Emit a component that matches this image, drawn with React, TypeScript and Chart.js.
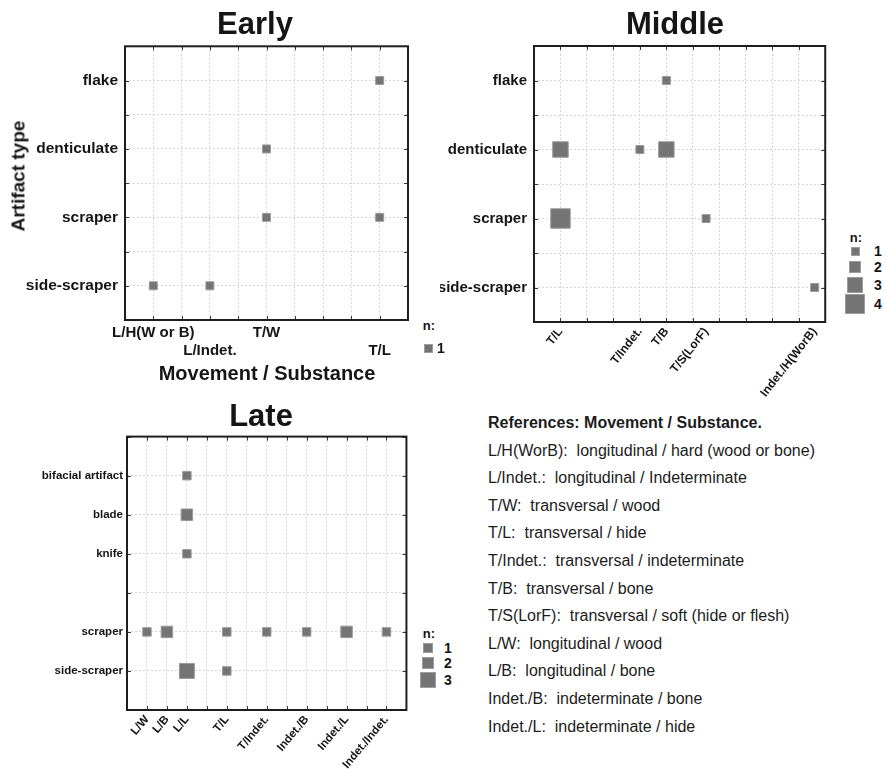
import React, { useEffect, useRef } from 'react';
import { Chart, registerables } from 'chart.js';
Chart.register(...registerables);

const FONT = "'Liberation Sans', Arial, Helvetica, sans-serif";

// ---------- Early ----------
const earlyArtifacts = ['side-scraper', 'scraper', 'denticulate', 'flake'];
const earlyArtifactPos = [1, 2, 3, 4];
const earlyMovements = ['L/H(W or B)', 'L/Indet.', 'T/W', 'T/L'];
const earlyMovementPos = [1, 2, 3, 5];
const earlyMovementRow = [0, 1, 0, 1];
const earlyPointMovement = ['L/H(W or B)', 'L/Indet.', 'T/W', 'T/W', 'T/L', 'T/L'];
const earlyPointArtifact = ['side-scraper', 'side-scraper', 'denticulate', 'scraper', 'scraper', 'flake'];
const earlyPointN = [1, 1, 1, 1, 1, 1];
const earlyLegendN = [1];

// ---------- Middle ----------
const middleArtifacts = ['side-scraper', 'scraper', 'denticulate', 'flake'];
const middleArtifactPos = [1, 2, 3, 4];
const middleMovements = ['T/L', 'T/Indet.', 'T/B', 'T/S(LorF)', 'Indet./H(WorB)'];
const middleMovementPos = [1, 4, 5, 6.5, 10.6];
const middlePointMovement = ['T/B', 'T/L', 'T/Indet.', 'T/B', 'T/L', 'T/S(LorF)', 'Indet./H(WorB)'];
const middlePointArtifact = ['flake', 'denticulate', 'denticulate', 'denticulate', 'scraper', 'scraper', 'side-scraper'];
const middlePointN = [1, 3, 1, 3, 4, 1, 1];
const middleLegendN = [1, 2, 3, 4];

// ---------- Late ----------
const lateArtifacts = ['side-scraper', 'scraper', 'knife', 'blade', 'bifacial artifact'];
const lateArtifactPos = [1, 2, 4, 5, 6];
const lateMovements = ['L/W', 'L/B', 'L/L', 'T/L', 'T/Indet.', 'Indet./B', 'Indet./L', 'Indet./Indet.'];
const lateMovementPos = [2, 2.5, 3, 4, 5, 6, 7, 8];
const latePointMovement = ['L/W', 'L/B', 'T/L', 'T/Indet.', 'Indet./B', 'Indet./L', 'Indet./Indet.', 'L/L', 'T/L', 'L/L', 'L/L', 'L/L'];
const latePointArtifact = ['scraper', 'scraper', 'scraper', 'scraper', 'scraper', 'scraper', 'scraper', 'side-scraper', 'side-scraper', 'knife', 'blade', 'bifacial artifact'];
const latePointN = [1, 2, 1, 1, 1, 2, 1, 3, 1, 1, 2, 1];
const lateLegendN = [1, 2, 3];

// ---------- References ----------
const referenceTitle = 'References: Movement / Substance.';
const referenceCodes = ['L/H(WorB)', 'L/Indet.', 'T/W', 'T/L', 'T/Indet.', 'T/B', 'T/S(LorF)', 'L/W', 'L/B', 'Indet./B', 'Indet./L'];
const referenceMeanings = [
  'longitudinal / hard (wood or bone)',
  'longitudinal / Indeterminate',
  'transversal / wood',
  'transversal / hide',
  'transversal / indeterminate',
  'transversal / bone',
  'transversal / soft (hide or flesh)',
  'longitudinal / wood',
  'longitudinal / bone',
  'indeterminate / bone',
  'indeterminate / hide',
];

// ---------- styles ----------
const MARK_FILL = '#747474';
const MARK_BORDER = '#9c9c9c';
const TEXT = '#151515';

type Box = { left: number; top: number; width: number; height: number };
type Plot = { left: number; top: number; right: number; bottom: number };
type Panel = {
  artifacts: string[]; artifactPos: number[];
  movements: string[]; movementPos: number[]; movementRow?: number[];
  pm: string[]; pa: string[]; pn: number[];
  xMin: number; xMax: number; xStep: number;
  yMin: number; yMax: number; yStep: number;
  sides: number[];
  yFont: number; xFont: number; rotation: number;
  xPad: number; yPad: number;
  canvas: Box; plot: Plot;
};

function steps(a: number, b: number, s: number) {
  const out: number[] = [];
  for (let v = a; v <= b + 1e-9; v += s) out.push(Math.round(v * 1000) / 1000);
  return out;
}
const near = (a: number, b: number) => Math.abs(a - b) < 1e-6;

const framePlugin = {
  id: 'frame',
  afterDraw(chart: any, _args: any, opts: any) {
    const { ctx, chartArea: a, scales } = chart;
    ctx.save();
    ctx.strokeStyle = '#3a3a3a';
    ctx.lineWidth = 1;
    ctx.beginPath();
    for (const v of opts.xGrid) {
      const x = Math.round(scales.x.getPixelForValue(v)) + 0.5;
      ctx.moveTo(x, a.top); ctx.lineTo(x, a.top + 4);
      ctx.moveTo(x, a.bottom); ctx.lineTo(x, a.bottom - 4);
    }
    for (const v of opts.yGrid) {
      const y = Math.round(scales.y.getPixelForValue(v)) + 0.5;
      ctx.moveTo(a.left, y); ctx.lineTo(a.left + 4, y);
      ctx.moveTo(a.right, y); ctx.lineTo(a.right - 4, y);
    }
    ctx.stroke();
    ctx.strokeStyle = '#1e1e1e';
    ctx.lineWidth = 2;
    ctx.strokeRect(a.left, a.top, a.right - a.left, a.bottom - a.top);
    ctx.restore();
  },
};

function makeChart(canvas: HTMLCanvasElement, p: Panel) {
  const data = p.pm.map((m, i) => ({
    x: p.movementPos[p.movements.indexOf(m)],
    y: p.artifactPos[p.artifacts.indexOf(p.pa[i])],
    n: p.pn[i],
  }));
  const radius = (c: any) => {
    const raw = c.raw;
    if (!raw) return 0;
    return (p.sides[raw.n - 1] - 1) / Math.SQRT2;
  };
  const xGrid = steps(p.xMin, p.xMax, p.xStep);
  const yGrid = steps(p.yMin, p.yMax, p.yStep);
  const xTicks = Array.from(new Set([...xGrid, ...p.movementPos])).sort((a, b) => a - b);
  const yTicks = Array.from(new Set([...yGrid, ...p.artifactPos])).sort((a, b) => a - b);
  const cv = p.canvas, pl = p.plot;
  const gridColor = (grid: number[]) => (c: any) =>
    c.tick && grid.some((g) => near(g, c.tick.value)) ? '#d6d6d6' : 'rgba(0,0,0,0)';

  return new Chart(canvas, {
    type: 'scatter',
    data: {
      datasets: [{
        data: data as any,
        pointStyle: 'rect',
        pointRadius: radius,
        pointHoverRadius: radius,
        backgroundColor: MARK_FILL,
        borderColor: MARK_BORDER,
        borderWidth: 1,
      }],
    },
    options: {
      animation: false,
      responsive: false,
      events: [],
      layout: { padding: { left: 0, top: pl.top - cv.top, right: cv.left + cv.width - pl.right, bottom: 0 } },
      plugins: { legend: { display: false }, tooltip: { enabled: false }, frame: { xGrid, yGrid } } as any,
      scales: {
        x: {
          type: 'linear', position: 'bottom', min: p.xMin, max: p.xMax,
          afterBuildTicks: (s: any) => { s.ticks = xTicks.map((v) => ({ value: v })); },
          afterFit: (s: any) => { s.height = cv.top + cv.height - pl.bottom; },
          ticks: {
            autoSkip: false, minRotation: p.rotation, maxRotation: p.rotation, padding: p.xPad,
            color: TEXT, font: { family: FONT, size: p.xFont, weight: 'bold' },
            callback: (v: any) => {
              const i = p.movementPos.findIndex((q) => near(q, Number(v)));
              if (i < 0) return '';
              return p.movementRow && p.movementRow[i] ? ['', p.movements[i]] : p.movements[i];
            },
          },
          grid: { color: gridColor(xGrid), lineWidth: 1, drawTicks: false },
          border: { display: false, dash: [2, 2] },
        },
        y: {
          type: 'linear', position: 'left', min: p.yMin, max: p.yMax,
          afterBuildTicks: (s: any) => { s.ticks = yTicks.map((v) => ({ value: v })); },
          afterFit: (s: any) => { s.width = pl.left - cv.left; },
          ticks: {
            autoSkip: false, padding: p.yPad,
            color: TEXT, font: { family: FONT, size: p.yFont, weight: 'bold' },
            callback: (v: any) => {
              const i = p.artifactPos.findIndex((q) => near(q, Number(v)));
              return i < 0 ? '' : p.artifacts[i];
            },
          },
          grid: { color: gridColor(yGrid), lineWidth: 1, drawTicks: false },
          border: { display: false, dash: [2, 2] },
        },
      },
    } as any,
    plugins: [framePlugin as any],
  });
}

const earlyPanel: Panel = {
  artifacts: earlyArtifacts, artifactPos: earlyArtifactPos,
  movements: earlyMovements, movementPos: earlyMovementPos, movementRow: earlyMovementRow,
  pm: earlyPointMovement, pa: earlyPointArtifact, pn: earlyPointN,
  xMin: 0.5, xMax: 5.5, xStep: 0.5, yMin: 0.5, yMax: 4.5, yStep: 0.5,
  sides: [9],
  yFont: 15.5, xFont: 15, rotation: 0, xPad: 4, yPad: 7,
  canvas: { left: 0, top: 30, width: 420, height: 332 },
  plot: { left: 125, top: 43, right: 408, bottom: 320 },
};
const middlePanel: Panel = {
  artifacts: middleArtifacts, artifactPos: middleArtifactPos,
  movements: middleMovements, movementPos: middleMovementPos,
  pm: middlePointMovement, pa: middlePointArtifact, pn: middlePointN,
  xMin: 0, xMax: 11, xStep: 1, yMin: 0.5, yMax: 4.5, yStep: 0.5,
  sides: [9, 12.5, 16.5, 20.5],
  yFont: 15, xFont: 12, rotation: 52, xPad: 3, yPad: 7,
  canvas: { left: 440, top: 30, width: 400, height: 372 },
  plot: { left: 534, top: 45, right: 828, bottom: 322 },
};
const latePanel: Panel = {
  artifacts: lateArtifacts, artifactPos: lateArtifactPos,
  movements: lateMovements, movementPos: lateMovementPos,
  pm: latePointMovement, pa: latePointArtifact, pn: latePointN,
  xMin: 1.5, xMax: 8.5, xStep: 0.5, yMin: 0, yMax: 7, yStep: 1,
  sides: [9.5, 12.5, 16],
  yFont: 11.5, xFont: 11.5, rotation: 50, xPad: 3, yPad: 4,
  canvas: { left: 0, top: 425, width: 420, height: 344 },
  plot: { left: 127, top: 434, right: 407, bottom: 710 },
};

function PanelCanvas({ panel }: { panel: Panel }) {
  const ref = useRef<HTMLCanvasElement>(null);
  useEffect(() => {
    const ch = makeChart(ref.current as HTMLCanvasElement, panel);
    return () => ch.destroy();
  }, [panel]);
  const c = panel.canvas;
  return (
    <canvas
      ref={ref}
      width={c.width}
      height={c.height}
      style={{ position: 'absolute', left: c.left, top: c.top, width: c.width, height: c.height }}
    />
  );
}

function Txt(props: { x: number; y: number; size: number; bold?: boolean; rot?: number; children: React.ReactNode }) {
  const { x, y, size, bold = true, rot = 0, children } = props;
  return (
    <div
      style={{
        position: 'absolute', left: x, top: y,
        transform: `translate(-50%, -50%) rotate(${rot}deg)`,
        fontFamily: FONT, fontSize: size, fontWeight: bold ? 700 : 400,
        lineHeight: 1, whiteSpace: 'pre', color: TEXT, zIndex: 2,
      }}
    >
      {children}
    </div>
  );
}

function Legend(props: { x: number; labelX: number; headY: number; ys: number[]; ns: number[]; sides: number[] }) {
  const { x, labelX, headY, ys, ns, sides } = props;
  return (
    <>
      <Txt x={x + 1} y={headY} size={13}>n:</Txt>
      {ns.map((n, i) => {
        const s = sides[n - 1];
        return (
          <React.Fragment key={n}>
            <div
              style={{
                position: 'absolute', left: x - s / 2, top: ys[i] - s / 2, width: s, height: s,
                boxSizing: 'border-box', background: MARK_FILL, border: `1px solid ${MARK_BORDER}`, zIndex: 2,
              }}
            />
            <Txt x={labelX} y={ys[i]} size={14}>{String(n)}</Txt>
          </React.Fragment>
        );
      })}
    </>
  );
}

export default function App() {
  return (
    <div style={{ position: 'absolute', left: 0, top: 0, width: 886, height: 769, overflow: 'hidden', background: '#fff' }}>
      <PanelCanvas panel={earlyPanel} />
      <PanelCanvas panel={middlePanel} />
      <PanelCanvas panel={latePanel} />

      <Txt x={255} y={23} size={31}>Early</Txt>
      <Txt x={675} y={23} size={31}>Middle</Txt>
      <Txt x={261} y={415} size={31}>Late</Txt>

      <Txt x={267} y={373} size={20}>Movement / Substance</Txt>
      <Txt x={18} y={176} size={19} rot={-90}>Artifact type</Txt>

      <Legend x={428} labelX={441} headY={325} ys={[348]} ns={earlyLegendN} sides={earlyPanel.sides} />
      <Legend x={855} labelX={878} headY={237} ys={[251, 267, 285, 304]} ns={middleLegendN} sides={middlePanel.sides} />
      <Legend x={428} labelX={448} headY={633} ys={[648, 663, 680]} ns={lateLegendN} sides={latePanel.sides} />

      <div
        style={{
          position: 'absolute', left: 488, top: 409, fontFamily: FONT, fontSize: 16,
          lineHeight: '27.6px', color: '#1c1c1c', whiteSpace: 'pre', zIndex: 2,
        }}
      >
        <div style={{ fontWeight: 700 }}>{referenceTitle}</div>
        {referenceCodes.map((c, i) => (
          <div key={c}>{`${c}:  ${referenceMeanings[i]}`}</div>
        ))}
      </div>
    </div>
  );
}
